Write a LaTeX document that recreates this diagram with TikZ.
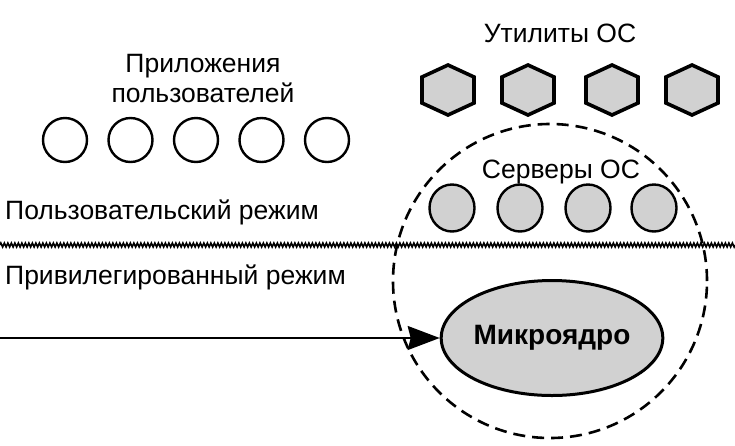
\documentclass[tikz,border=0pt]{standalone}
\usepackage{fontspec}
\setmainfont{Liberation Sans}
\usetikzlibrary{positioning,arrows.meta,shapes.geometric,decorations.pathmorphing}

\begin{document}
\begin{tikzpicture}[x=1pt, y=-1pt,
  lbl/.style={font=\fontsize{26.5}{30}\selectfont, inner sep=0pt},
  app/.style={draw, circle, line width=2.4pt, minimum size=44pt, inner sep=0pt},
  srv/.style={draw, ellipse, line width=2.4pt, fill=black!18, minimum width=45pt, minimum height=47pt, inner sep=0pt},
  hex/.style={draw, line width=3.6pt, line join=miter, fill=black!18},
  arr/.style={-{Stealth[length=32pt, width=24pt, inset=3pt]}, line width=2pt}]
\useasboundingbox (0,0) rectangle (735,445);
% user mode side
\node[lbl, align=center] (applbl) at (203,79) {Приложения\\пользователей};
\foreach \i in {1,...,5}
  \node[app] (app\i) at ({65+65.5*(\i-1)},140) {};
\node[lbl, anchor=west] (usermode) at (5,212) {Пользовательский режим};
\node[lbl, anchor=west] (privmode) at (5,277) {Привилегированный режим};
% mode boundary
\coordinate (bl) at (0,245);
\coordinate (br) at (735,245);
\draw[line width=1.6pt, decorate, decoration={zigzag, segment length=3.5pt, amplitude=2pt}] (bl) -- (br);
% OS utilities
\node[lbl] (utillbl) at (560,33) {Утилиты ОС};
\foreach \x [count=\i] in {448,528,612,692}
  \draw[hex] (\x,65) -- (\x+26,77) -- (\x+26,103) -- (\x,115)
    -- (\x-26,103) -- (\x-26,77) -- cycle;
% OS servers and kernel
\node[draw, circle, dashed, dash pattern=on 12pt off 7pt, line width=2.6pt,
  minimum size=314pt, inner sep=0pt] (os) at (550,281) {};
\node[lbl] (srvlbl) at (561,172) {Серверы ОС};
\foreach \x [count=\i] in {452,520,588,654}
  \node[srv] (srv\i) at (\x,208) {};
\node[draw, ellipse, line width=3pt, fill=black!18, minimum width=211pt,
  minimum height=115pt, inner sep=0pt, font=\fontsize{28}{30}\selectfont\bfseries]
  (kernel) at (552,338) {Микроядро};
\coordinate (entry) at (0,338);
\draw[arr] (entry) -- (entry -| kernel.west);
\end{tikzpicture}
\end{document}
